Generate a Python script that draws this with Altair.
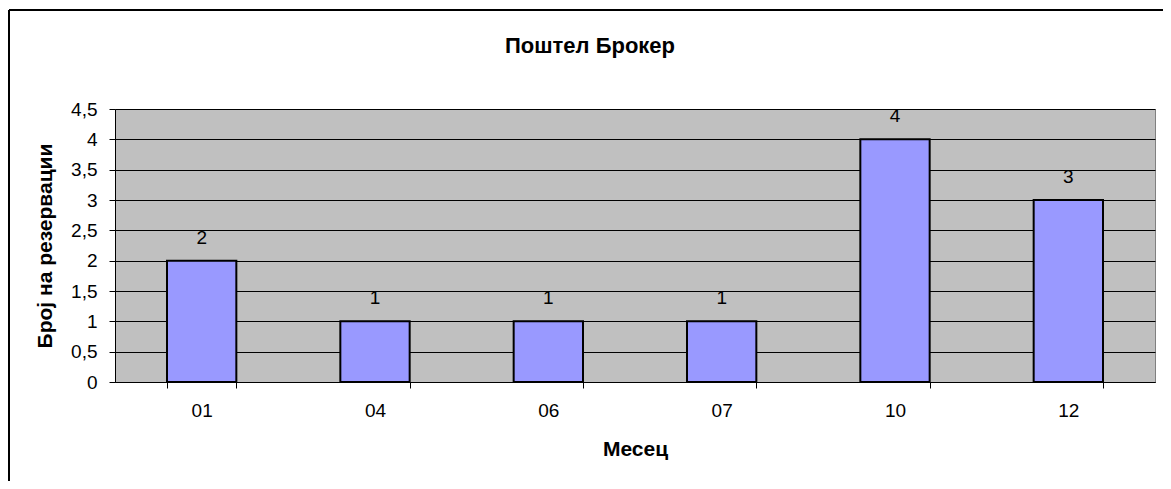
import altair as alt
import pandas as pd

months = ["01", "04", "06", "07", "10", "12"]
counts = [2, 1, 1, 1, 4, 3]
y_ticks = [0, 0.5, 1, 1.5, 2, 2.5, 3, 3.5, 4, 4.5]

df = pd.DataFrame({"month": months, "count": counts})
FONT = "Liberation Sans"
FS = 19
TFS = 21

x_enc = alt.X(
    "month:N",
    title="Месец",
    sort=months,
    scale=alt.Scale(paddingInner=0.6, paddingOuter=0.3),
    axis=alt.Axis(
        labelAngle=0, tickBand="extent", tickSize=6, tickColor="black",
        domainColor="black", labelFontSize=FS, labelFont=FONT, labelColor="black",
        labelPadding=13, titleFont=FONT, titleFontSize=TFS, titleFontWeight="bold",
        titleColor="black", titlePadding=18, grid=False,
    ),
)
y_enc = alt.Y(
    "count:Q",
    title="Број на резервации",
    scale=alt.Scale(domain=[0, 4.5], nice=False),
    axis=alt.Axis(
        values=y_ticks, labelExpr="replace(toString(datum.value), '.', ',')",
        labelOverlap=False,
        tickSize=6, tickColor="black", domainColor="black", grid=True,
        gridColor="black", gridWidth=1, gridOpacity=1, labelFontSize=FS,
        labelFont=FONT, labelColor="black", labelPadding=12, titleFont=FONT,
        titleFontSize=TFS, titleFontWeight="bold", titleColor="black",
        titlePadding=15,
    ),
)

bars = alt.Chart(df).mark_bar(
    color="#9999FF", stroke="black", strokeWidth=2
).encode(x=x_enc, y=y_enc)

labels = alt.Chart(df).mark_text(
    baseline="alphabetic", dy=-17, fontSize=FS, font=FONT, color="black"
).encode(x=x_enc, y=y_enc, text="count:Q")

frame = alt.Chart(alt.Data(values=[{}]))
left_border = frame.mark_rule(color="black", strokeWidth=2).encode(
    x=alt.value(-106), y=alt.value(-99), y2=alt.value(380)
)
top_border = frame.mark_rule(color="black", strokeWidth=2).encode(
    x=alt.value(-106), x2=alt.value(1060), y=alt.value(-99)
)

chart = alt.layer(bars, labels, left_border, top_border).properties(
    width=1040,
    height=273,
    title=alt.TitleParams(
        "Поштел Брокер", font=FONT, fontSize=22, fontWeight="bold",
        color="black", offset=-49, dx=-45, anchor="middle",
    ),
    autosize=alt.AutoSizeParams(type="none"),
    padding={"left": 107, "top": 101, "right": 8, "bottom": 99},
    background="white",
).configure_view(
    fill="#C0C0C0", stroke="#808080", strokeWidth=1
)

chart.save("out.html", embed_options={"renderer": "svg", "actions": False})
